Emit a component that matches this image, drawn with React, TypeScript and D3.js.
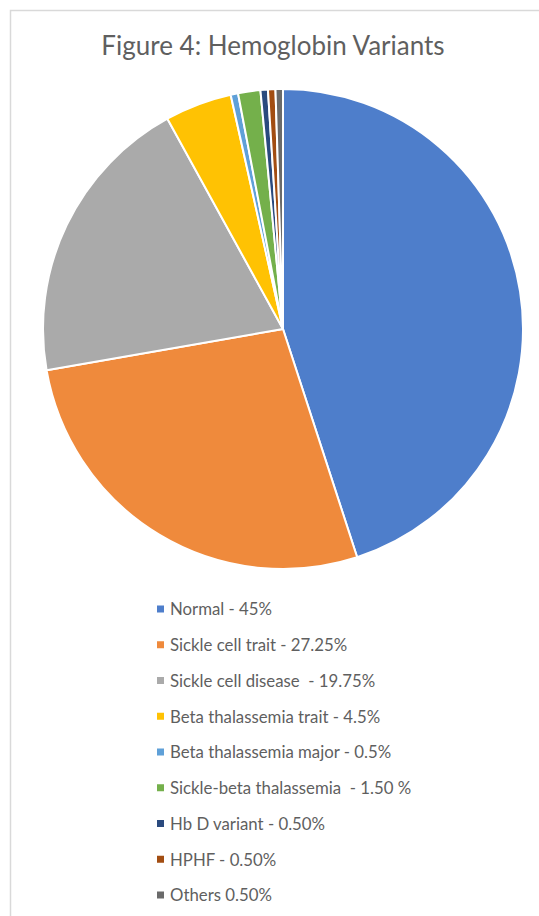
import React from "react";
import * as d3 from "d3";

const categories = [
  "Normal",
  "Sickle cell trait",
  "Sickle cell disease",
  "Beta thalassemia trait",
  "Beta thalassemia major",
  "Sickle-beta thalassemia",
  "Hb D variant",
  "HPHF",
  "Others",
];
const values = [45, 27.25, 19.75, 4.5, 0.5, 1.5, 0.5, 0.5, 0.5];
const legendLabels = [
  "Normal - 45%",
  "Sickle cell trait - 27.25%",
  "Sickle cell disease  - 19.75%",
  "Beta thalassemia trait - 4.5%",
  "Beta thalassemia major - 0.5%",
  "Sickle-beta thalassemia  - 1.50 %",
  "Hb D variant - 0.50%",
  "HPHF - 0.50%",
  "Others 0.50%",
];
const colors = [
  "#4E7ECB",
  "#EF8A3C",
  "#AAAAAA",
  "#FFC203",
  "#5FA0D8",
  "#74B04B",
  "#2A4A7E",
  "#A24D12",
  "#6A6A6A",
];

const W = 539;
const H = 916;
const cx = 283;
const cy = 329;
const radius = 240;
const font = "Lato, 'Open Sans', sans-serif";

export default function App() {
  const data = categories.map((c, i) => ({ name: c, value: values[i] }));
  const pie = d3.pie<{ name: string; value: number }>().value((d) => d.value).sort(null);
  const arc = d3.arc<d3.PieArcDatum<{ name: string; value: number }>>().innerRadius(0).outerRadius(radius);
  const arcs = pie(data);
  const color = d3.scaleOrdinal<string, string>().domain(categories).range(colors);
  const legendY = d3.scaleLinear().domain([0, categories.length - 1]).range([609.5, 895.5]);

  return (
    <svg width={W} height={H} style={{ position: "absolute", left: 0, top: 0 }}>
      <rect x={0} y={0} width={W} height={H} fill="#fff" />
      <rect x={10.5} y={10.5} width={W + 20} height={H + 20} fill="#fff" stroke="#d9d9d9" strokeWidth={1.5} />
      <text x={cx - 10} y={55} textAnchor="middle" fontFamily={font} fontSize={26} fill="#5f5f5f">
        Figure 4: Hemoglobin Variants
      </text>
      <g transform={`translate(${cx},${cy})`}>
        {arcs.map((a, i) => (
          <path key={i} d={arc(a) as string} fill={color(a.data.name)} stroke="#fff" strokeWidth={2} strokeLinejoin="round" />
        ))}
      </g>
      <g>
        {categories.map((c, i) => (
          <g key={c} transform={`translate(157,${legendY(i)})`}>
            <rect x={0} y={-4} width={7} height={7} fill={color(c)} />
            <text
              x={13}
              y={0}
              dy="0.35em"
              fontFamily={font}
              fontSize={16.8}
              fill="#5f5f5f"
              style={{ whiteSpace: "pre" }}
            >
              {legendLabels[i]}
            </text>
          </g>
        ))}
      </g>
    </svg>
  );
}
